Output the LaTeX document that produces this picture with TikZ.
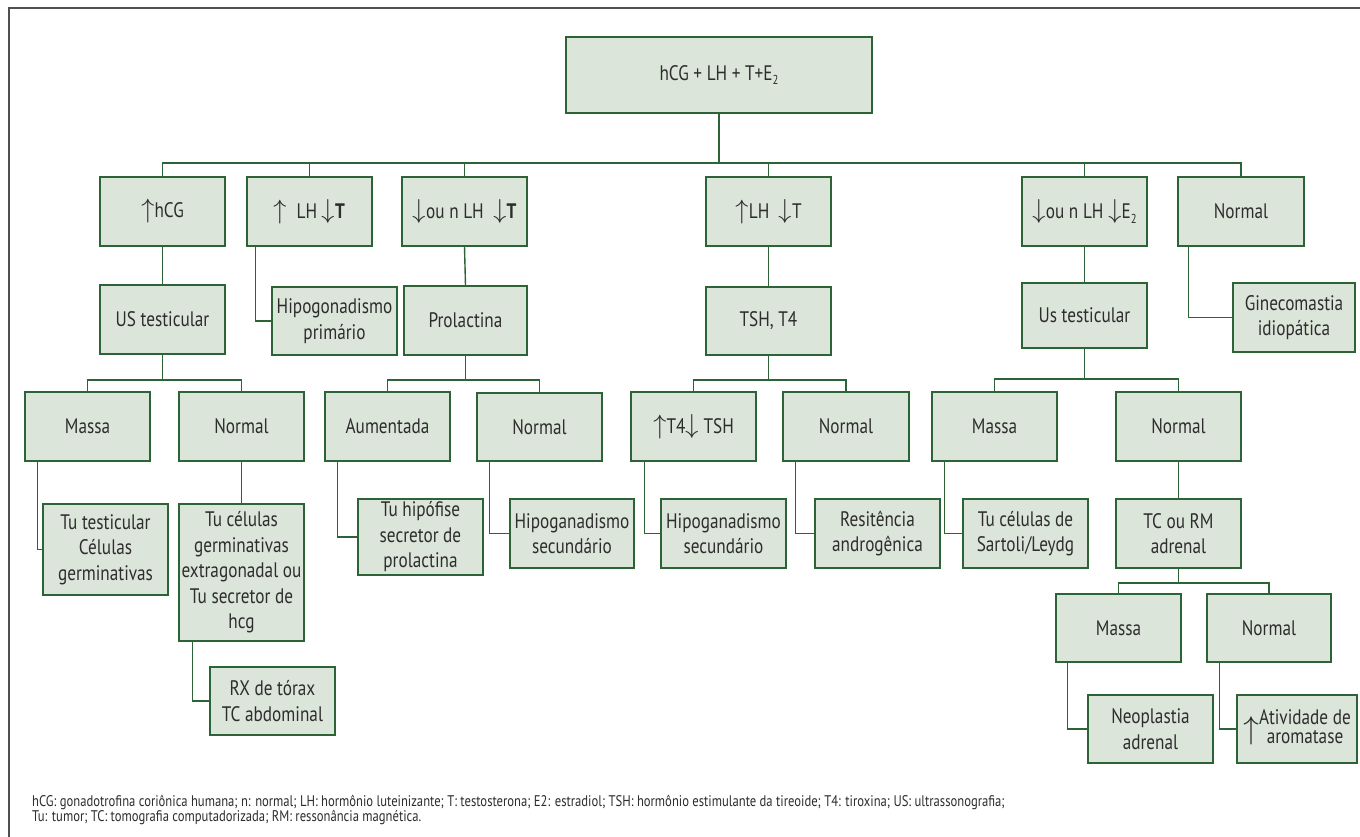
\documentclass[tikz,border=0pt]{standalone}
\usepackage{fontspec}
\setmainfont{PT Sans}[FakeStretch=0.82]
\newfontfamily\arrf{latinmodern-math.otf}
\usetikzlibrary{calc}
\definecolor{boxfill}{RGB}{220,229,218}
\definecolor{boxline}{RGB}{44,100,56}
\definecolor{txt}{RGB}{45,45,45}
\definecolor{framec}{RGB}{80,80,80}
\newcommand\up{{\arrf\fontsize{27}{25}\selectfont ↑}}
\newcommand\dn{{\arrf\fontsize{27}{25}\selectfont ↓}}
\newcommand\Esub{E\raisebox{-0.45ex}{\fontsize{13}{13}\selectfont 2}}
\newcommand\bx[6]{\node[box, minimum width={(#3)-(#2)}, minimum height={(#5)-(#4)}] (#1) at ({((#2)+(#3))/2},{((#4)+(#5))/2}) {#6};}
\tikzset{
  box/.style={draw=boxline, fill=boxfill, line width=1.4pt, inner sep=1pt, align=center, text=txt, font=\fontsize{21}{25.5}\selectfont},
  conn/.style={draw=boxline, line width=1.4pt},
  foot/.style={anchor=base west, inner sep=0pt, text=txt, font=\fontsize{15.4}{16}\selectfont}
}
\begin{document}
\begin{tikzpicture}[x=1pt,y=-1pt]
\useasboundingbox (0,0) rectangle (1360,837);
\fill[white] (0,0) rectangle (1360,837);
\draw[framec, line width=1.5pt] (9,840) -- (9,8) -- (1365,8);

% level 0 and 1
\bx{T}{566}{872}{37}{113}{hCG + LH + T+\Esub}
\bx{A}{100}{225}{177}{246}{\up hCG}
\bx{B}{247}{372}{177}{246}{\up\ \ LH \dn\textbf{T}}
\bx{C}{402}{527}{177}{246}{\dn ou n LH\ \ \dn\textbf{T}}
\bx{D}{706}{831}{177}{246}{\up LH\ \ \dn T}
\bx{E}{1022}{1147}{177}{246}{\dn ou n LH \dn\Esub}
\bx{F}{1178}{1304}{177}{246}{Normal}
% level 2
\bx{A2}{100}{225}{285}{354}{US testicular}
\bx{B2}{272}{397}{287}{355}{Hipogonadismo\\primário}
\bx{C2}{404}{527}{286}{355}{Prolactina}
\bx{D2}{706}{831}{287}{355}{TSH, T4}
\bx{E2}{1022}{1147}{283}{348}{Us testicular}
\bx{F2}{1233}{1355}{283}{352}{\fontsize{21}{21.5}\selectfont Ginecomastia\\idiopática}
% level 3
\bx{A3}{25}{150}{392}{461}{Massa}
\bx{A3b}{179}{304}{392}{461}{Normal}
\bx{C3}{325}{450}{392}{461}{Aumentada}
\bx{C3b}{477}{602}{393}{461}{Normal}
\bx{D3}{631}{756}{392}{461}{\up T4\dn\ TSH}
\bx{D3b}{783}{909}{392}{461}{Normal}
\bx{E3}{932}{1057}{392}{461}{Massa}
\bx{E3b}{1116}{1241}{392}{461}{Normal}
% level 4
\bx{A4}{43}{168}{504}{595}{Tu testicular\\Células\\germinativas}
\bx{A4b}{179}{304}{504}{641}{Tu células\\germinativas\\extragonadal ou\\Tu secretor de\\hcg}
\bx{C4}{358}{483}{499}{575}{Tu hipófise\\secretor de\\prolactina}
\bx{C4b}{510}{634}{499}{568}{Hipoganadismo\\secundário}
\bx{D4}{661}{786}{499}{568}{Hipoganadismo\\secundário}
\bx{D4b}{815}{940}{499}{568}{Resitência\\androgênica}
\bx{E4}{963}{1088}{499}{568}{Tu células de\\Sartoli/Leydg}
\bx{E4b}{1116}{1241}{499}{568}{TC ou RM\\adrenal}
% level 5/6
\bx{A5}{210}{335}{667}{735}{RX de tórax\\TC abdominal}
\bx{E5}{1056}{1181}{594}{662}{Massa}
\bx{E5b}{1207}{1331}{594}{662}{Normal}
\bx{E6}{1088}{1213}{695}{763}{\fontsize{21}{19}\selectfont Neoplastia\\adrenal}
\bx{E6b}{1237}{1357}{695}{763}{\raisebox{-0.4ex}{\arrf\fontsize{32}{30}\selectfont ↑}\fontsize{21}{18}\selectfont\begin{tabular}{@{}c@{}}Atividade de\\aromatase\end{tabular}}

% buses
\coordinate (bus0) at (0,163);
\coordinate (busA) at (0,380);
\coordinate (busE) at (0,379);
\coordinate (busE2) at (0,583);
\draw[conn] (A.north) |- (F.north |- bus0) -- (F.north);
\foreach \n in {B,C,D,E} \draw[conn] (\n.north) -- (\n.north |- bus0);
\draw[conn] (T.south) -- (T.south |- bus0);

\draw[conn] (A.south) -- (A2.north);
\draw[conn] (C.south) -- (C2.north);
\draw[conn] (D.south) -- (D2.north);
\draw[conn] (E.south) -- (E2.north);
\draw[conn] ([xshift=9pt]B.south west) |- (B2.west);
\draw[conn] ([xshift=11pt]F.south west) |- (F2.west);

\draw[conn] (A3.north) |- (A3b.north |- busA) -- (A3b.north);
\draw[conn] (A2.south) -- (A2.south |- busA);
\draw[conn] (C3.north) |- (C3b.north |- busA) -- (C3b.north);
\draw[conn] (C2.south) -- (C2.south |- busA);
\draw[conn] (D3.north) |- (D3b.north |- busA) -- (D3b.north);
\draw[conn] (D2.south) -- (D2.south |- busA);
\draw[conn] (E3.north) |- (E3b.north |- busE) -- (E3b.north);
\draw[conn] (E2.south) -- (E2.south |- busE);

\draw[conn] ([xshift=13pt]A3.south west) |- (A4.west);
\draw[conn] (A3b.south) -- (A4b.north);
\draw[conn] ([xshift=14pt]A4b.south west) |- (A5.west);
\draw[conn] ([xshift=13pt]C3.south west) |- (C4.west);
\draw[conn] ([xshift=13pt]C3b.south west) |- (C4b.west);
\draw[conn] ([xshift=14pt]D3.south west) |- (D4.west);
\draw[conn] ([xshift=13pt]D3b.south west) |- (D4b.west);
\draw[conn] ([xshift=13pt]E3.south west) |- (E4.west);
\draw[conn] (E3b.south) -- (E4b.north);

\draw[conn] (E5.north) |- (E5b.north |- busE2) -- (E5b.north);
\draw[conn] (E4b.south) -- (E4b.south |- busE2);
\draw[conn] ([xshift=12pt]E5.south west) |- (E6.west);
\draw[conn] ([xshift=13pt]E5b.south west) |- (E6b.west);

% footnote
\node[foot] (n1) at (32,806) {hCG: gonadotrofina coriônica humana; n: normal; LH: hormônio luteinizante; T: testosterona; E2: estradiol; TSH: hormônio estimulante da tireoide; T4: tiroxina; US: ultrassonografia;};
\node[foot] (n2) at (32,821) {Tu: tumor; TC: tomografia computadorizada; RM: ressonância magnética.};
\end{tikzpicture}
\end{document}
